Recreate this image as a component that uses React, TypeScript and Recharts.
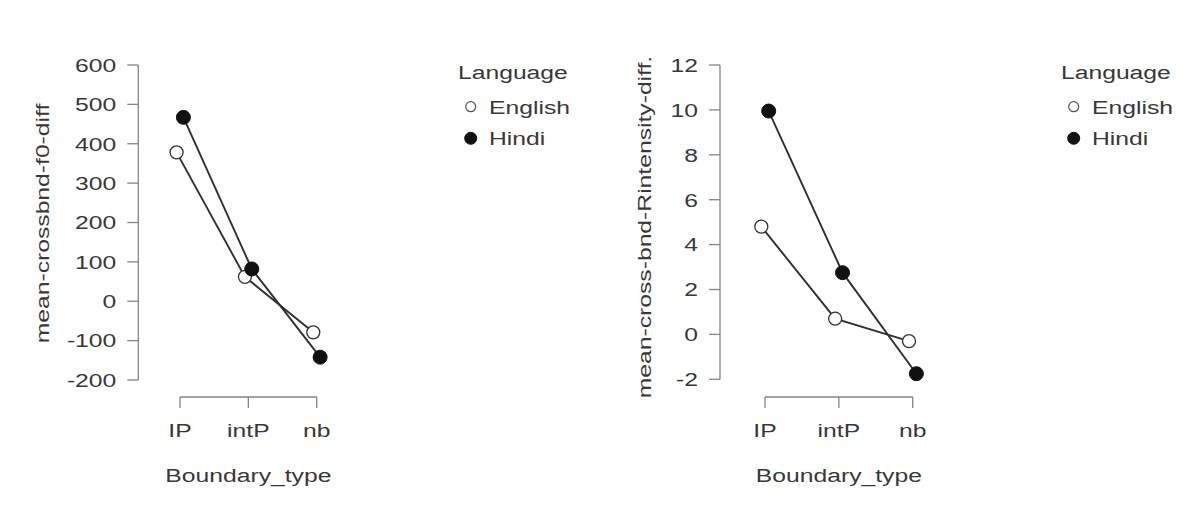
import { LineChart, Line, XAxis, YAxis, Legend } from 'recharts';

const BOUNDARY_TYPES = ['IP', 'intP', 'nb'];
const LANGUAGES = ['English', 'Hindi'];

const F0_ENGLISH = [378, 62, -79];
const F0_HINDI = [467, 82, -142];
const F0_TICKS = [-200, -100, 0, 100, 200, 300, 400, 500, 600];

const INT_ENGLISH = [4.8, 0.7, -0.3];
const INT_HINDI = [9.95, 2.75, -1.75];
const INT_TICKS = [-2, 0, 2, 4, 6, 8, 10, 12];

const FONT = '"Liberation Sans", Arial, Helvetica, sans-serif';
const FS = 19;
const SX = 1.3;
const TEXT_COLOR = '#383838';
const AXIS_COLOR = '#858585';
const LINE_COLOR = '#303030';
const H = 520;
const X_AXIS_Y = 397;
const X_AXIS_H = 100;
const DODGE = 0.05;

// page-space layout of each panel
const LEFT_PANEL = {
  left: 0, width: 590, axisX: 138.3, tick1X: 180, tick3X: 316.7,
  topY: 65, lowY: 380, titleX: 49, titleY: 223.5, legendX: 458,
};
const RIGHT_PANEL = {
  left: 590, width: 610, axisX: 720, tick1X: 765, tick3X: 912.7,
  topY: 65, lowY: 379.3, titleX: 651, titleY: 227, legendX: 1060.7,
};

function StretchText({ x, y, anchor = 'start', rotate = 0, children }: any) {
  return (
    <text
      transform={`translate(${x},${y}) rotate(${rotate}) scale(${SX},1)`}
      textAnchor={anchor}
      fontFamily={FONT}
      fontSize={FS}
      fill={TEXT_COLOR}
    >
      {children}
    </text>
  );
}

function XTick(props: any) {
  const { x, y, payload } = props;
  return (
    <StretchText x={x} y={y + FS * 0.72} anchor="middle">
      {BOUNDARY_TYPES[payload.value - 1]}
    </StretchText>
  );
}

function YTick(props: any) {
  const { x, y, payload } = props;
  return (
    <StretchText x={x} y={y + FS * 0.36} anchor="end">
      {payload.value}
    </StretchText>
  );
}

function AxisTitle({ tx, ty, text, rotate = 0 }: any) {
  return (
    <StretchText x={tx} y={ty} anchor="middle" rotate={rotate}>
      {text}
    </StretchText>
  );
}

function LegendBox() {
  return (
    <svg width={140} height={105} style={{ display: 'block', overflow: 'visible' }}>
      <StretchText x={0} y={28.5}>Language</StretchText>
      <circle cx={12.7} cy={56.7} r={5} fill="#fff" stroke="#555" strokeWidth={1.2} />
      <StretchText x={31} y={63.5}>{LANGUAGES[0]}</StretchText>
      <circle cx={12.7} cy={88.3} r={6} fill="#111" stroke="#111" strokeWidth={1} />
      <StretchText x={31} y={95}>{LANGUAGES[1]}</StretchText>
    </svg>
  );
}

function toPoints(values: number[], shift: number) {
  return values.map((v, i) => ({ x: i + 1 + shift, y: v }));
}

function Panel({ cfg, english, hindi, ticks, yTitle }: any) {
  const unit = (cfg.tick3X - cfg.tick1X) / 2;
  const padLeft = cfg.tick1X - unit * 0.5 - cfg.axisX;
  const plotRight = cfg.tick3X + unit * 0.5;
  const padBottom = X_AXIS_Y - cfg.lowY;
  const yLen = cfg.lowY - cfg.topY;
  const xGap = cfg.tick1X - cfg.axisX;
  const xLen = cfg.tick3X - cfg.tick1X;

  return (
    <div style={{ position: 'absolute', left: cfg.left, top: 0 }}>
      <LineChart
        width={cfg.width}
        height={H}
        margin={{
          top: cfg.topY,
          left: 0,
          right: cfg.left + cfg.width - plotRight,
          bottom: H - X_AXIS_Y - X_AXIS_H,
        }}
      >
        <XAxis
          type="number"
          dataKey="x"
          domain={[0.5, 3.5]}
          ticks={[1, 2, 3]}
          interval={0}
          height={X_AXIS_H}
          padding={{ left: padLeft, right: 0 }}
          tickSize={11}
          tickMargin={15}
          tick={<XTick />}
          tickLine={{ stroke: AXIS_COLOR, strokeWidth: 1.3 }}
          axisLine={{
            stroke: AXIS_COLOR,
            strokeWidth: 1.3,
            strokeDasharray: `0 ${xGap} ${xLen} 10000`,
          }}
          label={
            <AxisTitle
              tx={(cfg.tick1X + cfg.tick3X) / 2 - cfg.left}
              ty={482}
              text="Boundary_type"
            />
          }
        />
        <YAxis
          type="number"
          dataKey="y"
          domain={[ticks[0], ticks[ticks.length - 1]]}
          ticks={ticks}
          interval={0}
          width={cfg.axisX - cfg.left}
          padding={{ top: 0, bottom: padBottom }}
          tickSize={11}
          tickMargin={11}
          tick={<YTick />}
          tickLine={{ stroke: AXIS_COLOR, strokeWidth: 1.3 }}
          axisLine={{
            stroke: AXIS_COLOR,
            strokeWidth: 1.3,
            strokeDasharray: `${yLen} 10000`,
          }}
          label={
            <AxisTitle tx={cfg.titleX - cfg.left} ty={cfg.titleY} rotate={-90} text={yTitle} />
          }
        />
        <Legend
          content={<LegendBox />}
          layout="vertical"
          align="center"
          verticalAlign="middle"
          wrapperStyle={{ left: cfg.legendX - cfg.left, top: 50, width: 140, height: 105 }}
        />
        <Line
          data={toPoints(english, -DODGE)}
          dataKey="y"
          name={LANGUAGES[0]}
          type="linear"
          stroke={LINE_COLOR}
          strokeWidth={1.9}
          dot={{ r: 6.5, fill: '#fff', stroke: '#333', strokeWidth: 1.3 }}
          activeDot={false}
          isAnimationActive={false}
        />
        <Line
          data={toPoints(hindi, DODGE)}
          dataKey="y"
          name={LANGUAGES[1]}
          type="linear"
          stroke={LINE_COLOR}
          strokeWidth={1.9}
          dot={{ r: 7, fill: '#111', stroke: '#111', strokeWidth: 1 }}
          activeDot={false}
          isAnimationActive={false}
        />
      </LineChart>
    </div>
  );
}

export default function App() {
  return (
    <div
      style={{
        position: 'absolute',
        left: 0,
        top: 0,
        width: 1200,
        height: 520,
        background: '#fff',
        overflow: 'hidden',
      }}
    >
      <Panel
        cfg={LEFT_PANEL}
        english={F0_ENGLISH}
        hindi={F0_HINDI}
        ticks={F0_TICKS}
        yTitle="mean-crossbnd-f0-diff"
      />
      <Panel
        cfg={RIGHT_PANEL}
        english={INT_ENGLISH}
        hindi={INT_HINDI}
        ticks={INT_TICKS}
        yTitle="mean-cross-bnd-Rintensity-diff."
      />
    </div>
  );
}
